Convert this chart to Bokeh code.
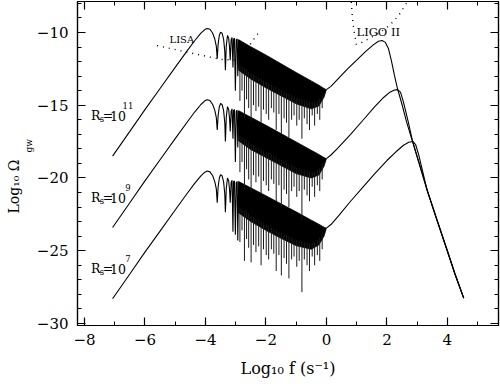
from bokeh.plotting import figure
from bokeh.models import Label, LinearAxis, SingleIntervalTicker, CustomJSTickFormatter, Range1d, Title
from bokeh.embed import file_html
from bokeh.resources import INLINE

# ---------------- data (log10 f, log10 Omega_gw) ----------------
# low-frequency part (rising branch + first resolved oscillations), shared x
lf_x = [-7.07, -6.5, -6.0, -5.5, -5.0, -4.6, -4.35, -4.15, -4.02, -3.94, -3.85, -3.76, -3.69, -3.64,
        -3.61, -3.58, -3.54, -3.50, -3.45, -3.40, -3.36, -3.34, -3.31, -3.27, -3.23, -3.20, -3.18,
        -3.15, -3.12, -3.09, -3.07, -3.04, -3.01, -2.98, -2.95, -2.93, -2.90]
lf1_y = [-18.5, -16.8, -15.3, -13.85, -12.4, -11.25, -10.55, -10.05, -9.8, -9.72, -9.78, -10.05, -10.45, -10.95,
         -11.8, -10.8, -10.2, -9.98, -10.05, -10.45, -11.3, -12.6, -10.9, -10.2, -10.4, -11.1, -11.9,
         -10.5, -10.35, -12.4, -10.45, -10.4, -14.0, -10.5, -10.45, -13.0, -10.5]
lf2_y = [-23.4, -21.7, -20.2, -18.75, -17.3, -16.15, -15.45, -14.95, -14.7, -14.62, -14.68, -14.95, -15.35, -15.85,
         -16.7, -15.7, -15.1, -14.88, -14.95, -15.35, -16.2, -17.5, -15.8, -15.1, -15.3, -16.0, -16.8,
         -15.4, -15.25, -17.3, -15.35, -15.3, -18.9, -15.4, -15.35, -17.9, -15.38]
lf3_y = [-28.3, -26.6, -25.1, -23.65, -22.2, -21.05, -20.35, -19.85, -19.6, -19.52, -19.58, -19.85, -20.25, -20.75,
         -21.7, -20.6, -20.0, -19.78, -19.85, -20.25, -21.1, -22.35, -20.7, -20.0, -20.2, -20.9, -21.7,
         -20.3, -20.15, -23.7, -20.25, -20.2, -23.9, -20.3, -20.25, -24.3, -20.25]

# dense oscillation band (upper and lower edge of the solid region)
band_x = [-2.90, -2.50, -2.00, -1.50, -1.00, -0.50, -0.25, -0.08, 0.00]
band1_top = [-10.50, -10.98, -11.55, -12.15, -12.75, -13.33, -13.62, -13.85, -13.93]
band1_bot = [-12.60, -13.20, -13.80, -14.35, -14.90, -15.25, -15.05, -14.45, -13.93]
band2_top = [-15.38, -15.82, -16.38, -16.95, -17.52, -18.10, -18.38, -18.60, -18.67]
band2_bot = [-17.45, -18.05, -18.60, -19.15, -19.70, -20.00, -19.80, -19.20, -18.67]
band3_top = [-20.25, -20.68, -21.22, -21.78, -22.33, -22.90, -23.18, -23.38, -23.45]
band3_bot = [-22.40, -23.00, -23.60, -24.15, -24.65, -24.90, -24.60, -24.00, -23.45]

# deep minima below the band
spike_x = [-2.86, -2.79, -2.71, -2.64, -2.57, -2.49, -2.41, -2.33, -2.24, -2.16, -2.08, -1.99,
           -1.91, -1.82, -1.74, -1.66, -1.57, -1.49, -1.40, -1.32, -1.24, -1.15, -1.07, -0.98,
           -0.90, -0.81, -0.73, -0.64, -0.56, -0.47, -0.39, -0.30, -0.22, -0.14]
spike1_top = [-12.25, -12.35, -12.45, -12.55, -12.7, -12.8, -12.9, -13.0, -13.1, -13.2, -13.3, -13.4,
              -13.5, -13.6, -13.7, -13.75, -13.85, -13.95, -14.05, -14.15, -14.2, -14.3, -14.4, -14.5,
              -14.55, -14.6, -14.65, -14.7, -14.75, -14.8, -14.75, -14.7, -14.55, -14.3]
spike1_bot = [-14.7, -14.0, -15.9, -14.6, -15.2, -16.1, -15.0, -15.4, -15.1, -16.2, -15.3, -15.6,
              -16.0, -15.2, -15.5, -16.7, -15.6, -17.0, -15.9, -16.2, -17.2, -16.0, -15.7, -16.4,
              -16.0, -17.3, -15.9, -16.3, -16.7, -15.7, -16.4, -15.6, -16.0, -15.2]
spike2_top = [-17.1, -17.2, -17.3, -17.4, -17.5, -17.65, -17.75, -17.85, -17.95, -18.05, -18.15, -18.25,
              -18.3, -18.4, -18.5, -18.6, -18.7, -18.75, -18.85, -18.95, -19.05, -19.1, -19.2, -19.3,
              -19.35, -19.4, -19.45, -19.5, -19.55, -19.6, -19.55, -19.45, -19.3, -19.0]
spike2_bot = [-19.6, -18.9, -20.8, -19.4, -20.1, -21.0, -19.8, -20.3, -19.9, -21.1, -20.2, -20.5,
              -20.9, -20.1, -20.4, -21.6, -20.5, -21.9, -20.8, -21.1, -22.0, -20.9, -20.6, -21.3,
              -20.9, -22.9, -20.8, -21.2, -21.6, -20.6, -21.3, -20.5, -20.9, -20.1]
spike3_top = [-22.0, -22.1, -22.2, -22.3, -22.4, -22.6, -22.7, -22.8, -22.9, -23.0, -23.1, -23.2,
              -23.3, -23.4, -23.5, -23.6, -23.7, -23.75, -23.85, -23.9, -24.0, -24.1, -24.2, -24.25,
              -24.3, -24.35, -24.4, -24.45, -24.5, -24.5, -24.4, -24.3, -24.1, -23.8]
spike3_bot = [-24.4, -23.6, -25.7, -24.2, -24.8, -25.8, -24.6, -25.1, -24.7, -26.0, -24.9, -25.3,
              -25.6, -24.9, -25.2, -26.4, -25.3, -26.7, -25.5, -25.9, -26.9, -25.6, -25.4, -26.1,
              -25.7, -27.85, -25.6, -26.0, -26.4, -25.4, -26.0, -25.3, -25.7, -24.9]

# high-frequency bump and common fall-off
hf1_x = [0.0, 0.15, 0.4, 0.7, 1.0, 1.3, 1.55, 1.72, 1.84, 1.95, 2.05, 2.15, 2.25, 2.35, 2.5, 2.65,
         2.84, 3.1, 3.33, 3.66, 3.99, 4.25, 4.54]
hf1_y = [-13.93, -13.7, -13.15, -12.5, -11.9, -11.3, -10.85, -10.6, -10.55, -10.68, -11.1, -11.95,
         -12.95, -13.85, -14.95, -16.15, -17.45, -19.25, -20.85, -22.95, -24.98, -26.6, -28.26]
hf2_x = [0.0, 0.15, 0.4, 0.8, 1.2, 1.6, 1.9, 2.1, 2.25, 2.35, 2.45, 2.55, 2.7, 2.84, 3.1, 3.33,
         3.66, 3.99, 4.25, 4.54]
hf2_y = [-18.67, -18.42, -17.9, -17.0, -16.05, -15.1, -14.45, -14.1, -13.95, -13.93, -14.1, -14.8,
         -16.1, -17.4, -19.2, -20.8, -22.9, -24.95, -26.58, -28.26]
hf3_x = [0.0, 0.15, 0.4, 0.8, 1.2, 1.6, 2.0, 2.3, 2.55, 2.72, 2.86, 2.95, 3.05, 3.2, 3.33, 3.66,
         3.99, 4.25, 4.54]
hf3_y = [-23.45, -23.2, -22.6, -21.6, -20.65, -19.7, -18.8, -18.2, -17.75, -17.55, -17.49, -17.7,
         -18.4, -19.7, -20.85, -22.9, -24.95, -26.6, -28.26]

# detector sensitivity curves
lisa_x = [-5.6, -4.5, -3.5, -3.0, -2.7, -2.45, -2.2]
lisa_y = [-10.9, -11.4, -11.85, -11.9, -11.4, -10.6, -9.9]
ligo_x = [0.80, 0.82, 0.85, 0.88, 0.93, 0.99, 1.18, 1.40, 1.72, 1.93, 2.12, 2.39, 2.67, 2.72]
ligo_y = [-7.5, -7.8, -8.71, -9.4, -10.09, -10.82, -10.67, -10.43, -10.07, -9.75, -9.45, -8.83, -7.92, -7.5]

curve_labels = ["11", "9", "7"]

# ---------------- figure ----------------
X0, X1, Y0, Y1 = -8.23, 5.69, -30.14, -7.87
FL, FR, FT, FB = 77, 498, 1, 325

p = figure(width=500, height=387, output_backend="svg", toolbar_location=None,
           x_range=Range1d(X0, X1), y_range=Range1d(Y0, Y1),
           min_border_left=FL, min_border_right=500 - FR, min_border_top=FT, min_border_bottom=387 - FB)
p.background_fill_color = "white"
p.border_fill_color = "white"
p.outline_line_color = "black"
p.outline_line_width = 1.2
p.xgrid.grid_line_color = None
p.ygrid.grid_line_color = None

FONT = "DejaVu Serif"
fmt = CustomJSTickFormatter(code="return (tick < 0 ? '\u2212' : '') + Math.abs(tick).toString();")


def style_axis(ax, labels):
    ax.major_tick_in = 8
    ax.major_tick_out = 0
    ax.minor_tick_in = 4
    ax.minor_tick_out = 0
    ax.axis_line_width = 1.2
    ax.major_tick_line_width = 1.2
    ax.minor_tick_line_width = 1.0
    ax.axis_line_color = "black"
    ax.major_tick_line_color = "black"
    ax.minor_tick_line_color = "black"
    if labels:
        ax.major_label_text_font = FONT
        ax.major_label_text_font_size = "15px"
        ax.major_label_text_color = "black"
        ax.formatter = fmt
    else:
        ax.major_label_text_font_size = "1px"
        ax.major_label_text_alpha = 0
        ax.major_label_standoff = 0


xax = p.xaxis[0]
yax = p.yaxis[0]
xax.ticker = SingleIntervalTicker(interval=2, num_minor_ticks=2)
yax.ticker = SingleIntervalTicker(interval=5, num_minor_ticks=5)
style_axis(xax, True)
style_axis(yax, True)
xax.major_label_standoff = 8
yax.major_label_standoff = 9

# x title
xax.axis_label = "Log\u2081\u2080 f (s\u207b\u00b9)"
xax.axis_label_text_font = FONT
xax.axis_label_text_font_size = "16px"
xax.axis_label_text_font_style = "normal"
xax.axis_label_text_color = "black"
xax.axis_label_standoff = 11

# y title: subscript "gw" next to the axis, main text further out
p.add_layout(Title(text="gw", align="left", offset=325 - 152, standoff=0,
                   text_font=FONT, text_font_size="9px", text_font_style="normal",
                   text_color="black"), "left")
p.add_layout(Title(text="Log\u2081\u2080 \u03a9", align="left", offset=325 - 213, standoff=0,
                   text_font=FONT, text_font_size="14px", text_font_style="normal",
                   text_color="black"), "left")

top_ax = LinearAxis(ticker=SingleIntervalTicker(interval=2, num_minor_ticks=2))
right_ax = LinearAxis(ticker=SingleIntervalTicker(interval=5, num_minor_ticks=5))
style_axis(top_ax, False)
style_axis(right_ax, False)
p.add_layout(top_ax, "above")
p.add_layout(right_ax, "right")

# ---------------- curves ----------------
bands = [(band1_top, band1_bot), (band2_top, band2_bot), (band3_top, band3_bot)]
for top, bot in bands:
    p.patch(band_x + band_x[::-1], top + bot[::-1], fill_color="black", line_color="black", line_width=0.8)

for st, sb in [(spike1_top, spike1_bot), (spike2_top, spike2_bot), (spike3_top, spike3_bot)]:
    p.segment(x0=spike_x, y0=st, x1=spike_x, y1=sb, line_color="#1a1a1a", line_width=1.0)

for ly in [lf1_y, lf2_y, lf3_y]:
    p.line(lf_x, ly, line_color="black", line_width=1.1)

for hx, hy in [(hf1_x, hf1_y), (hf2_x, hf2_y), (hf3_x, hf3_y)]:
    p.line(hx, hy, line_color="black", line_width=1.1)

p.line(lisa_x, lisa_y, line_color="black", line_width=1.4, line_dash="1 5")
p.line(ligo_x, ligo_y, line_color="black", line_width=1.4, line_dash="1 5")


# ---------------- texts inside the frame ----------------
def px2x(px):
    return X0 + (px - FL) * (X1 - X0) / (FR - FL)


def py2y(py):
    return Y1 - (py - FT) * (Y1 - Y0) / (FB - FT)


def lab(text, px, py, size, align="left"):
    p.add_layout(Label(x=px2x(px), y=py2y(py), text=text, text_font=FONT,
                       text_font_size=f"{size}px", text_align=align,
                       text_baseline="alphabetic", text_color="black"))


lab("LISA", 169, 38.5, 10)
lab("LIGO II", 356, 31.5, 11.5)

for lbl, base in zip(curve_labels, [115, 197, 268]):
    lab("R", 95.3, base, 12.5, "center")
    lab("s", 101.5, base + 3, 8.5, "center")
    lab("=", 107.5, base, 12.5, "center")
    lab("10", 117.5, base, 12.5, "center")
    lab(lbl, 127.5, base - 10, 8.5, "center")

open("out.html", "w").write(file_html(p, INLINE))
